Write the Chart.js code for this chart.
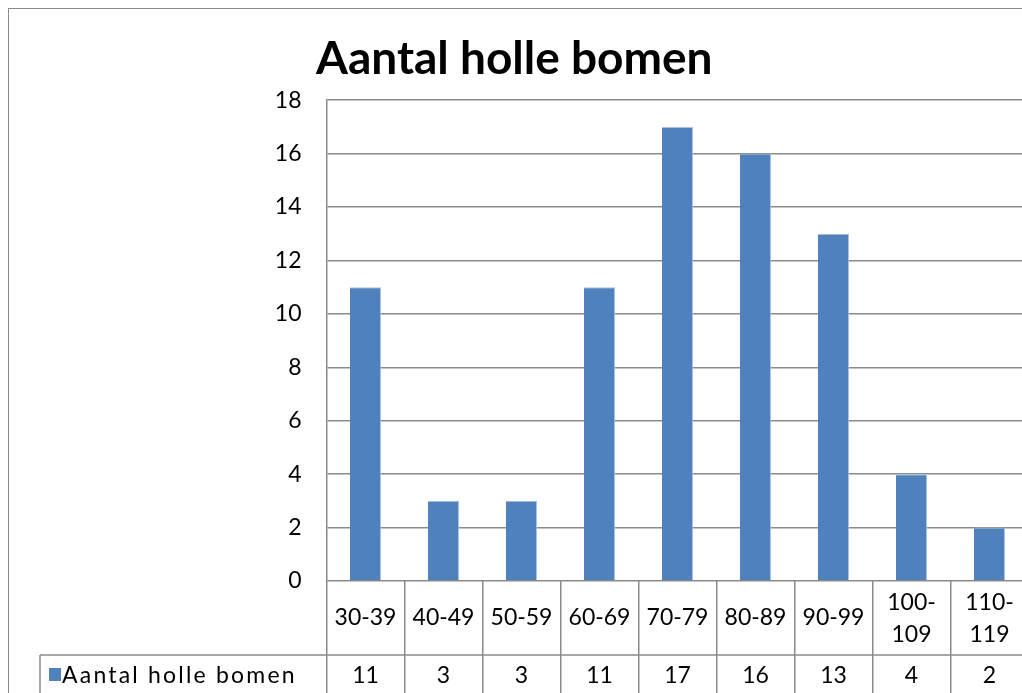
<!DOCTYPE html>
<html>
<head>
<meta charset="utf-8">
<script src="https://cdn.jsdelivr.net/npm/chart.js@4/dist/chart.umd.min.js"></script>
<style>
  html, body { margin: 0; padding: 0; background: #fff; }
  #wrap { position: relative; width: 1022px; height: 693px; overflow: hidden; }
  #frame { position: absolute; left: 8px; top: 8px; width: 1100px; height: 800px; border: 1.5px solid #8a8a8a; }
  #myChart { position: absolute; left: 0; top: 0; }
</style>
</head>
<body>
<div id="wrap">
  <div id="frame"></div>
  <canvas id="myChart" width="1035" height="720"></canvas>
</div>
<script>
// gegevens
const titel = 'Aantal holle bomen';
const klassen = ['30-39', '40-49', '50-59', '60-69', '70-79', '80-89', '90-99', '100-109', '110-119'];
const aantallen = [11, 3, 3, 11, 17, 16, 13, 4, 2];
const yTicks = [0, 2, 4, 6, 8, 10, 12, 14, 16, 18];

const blauw = '#4f81bd';
const lijn = '#8a8a8a';
const font = 'Lato';
const tabelTop = 581;   // onderkant plotgebied
const rijGrens = 655;   // lijn tussen de twee tabelrijen

// datatabel onder de grafiek tekenen
const tabelPlugin = {
  id: 'tabel',
  afterDraw(chart) {
    const ctx = chart.ctx;
    const xs = chart.scales.x;
    const bottom = chart.height;
    ctx.save();
    ctx.strokeStyle = lijn;
    ctx.lineWidth = 1.5;
    ctx.beginPath();
    ctx.moveTo(40, rijGrens);
    ctx.lineTo(chart.width, rijGrens);
    ctx.moveTo(40, rijGrens);
    ctx.lineTo(40, bottom);
    ctx.stroke();

    ctx.fillStyle = '#000';
    ctx.font = '23px ' + font;
    ctx.textAlign = 'center';
    ctx.textBaseline = 'middle';
    const breedte = xs.width / klassen.length;
    for (let i = 0; i < klassen.length; i++) {
      const x = xs.getPixelForValue(i);
      let regels = [klassen[i]];
      if (ctx.measureText(klassen[i]).width > breedte - 10) {
        const p = klassen[i].indexOf('-') + 1;
        regels = [klassen[i].slice(0, p), klassen[i].slice(p)];
      }
      if (regels.length == 1) {
        ctx.fillText(regels[0], x, 618);
      } else {
        ctx.fillText(regels[0], x, 603);
        ctx.fillText(regels[1], x, 635);
      }
      ctx.fillText(String(aantallen[i]), x, 676);
    }

    // legenda in de tabel
    ctx.fillStyle = blauw;
    ctx.fillRect(49, 668, 12, 13);
    ctx.fillStyle = '#000';
    ctx.textAlign = 'left';
    ctx.letterSpacing = '2.2px';
    ctx.fillText(titel, 62, 676);
    ctx.restore();
  }
};

const ctx = document.getElementById('myChart').getContext('2d');
const chart = new Chart(ctx, {
  type: 'bar',
  data: {
    labels: klassen,
    datasets: [{
      label: titel,
      data: aantallen,
      backgroundColor: blauw,
      borderColor: '#a9c1de',
      borderWidth: { top: 1, right: 1, left: 0, bottom: 0 },
      borderSkipped: false,
      categoryPercentage: 1.0,
      barPercentage: 0.4
    }]
  },
  options: {
    responsive: false,
    animation: false,
    layout: { padding: { left: 0, right: 6.5, top: 0, bottom: 0 } },
    plugins: {
      legend: { display: false },
      tooltip: { enabled: false },
      title: {
        display: true,
        text: titel,
        color: '#000',
        font: { family: font, size: 46, weight: 'bold', lineHeight: 1.2 },
        padding: { top: 32, bottom: 13 }
      }
    },
    scales: {
      x: {
        offset: true,
        ticks: { display: false },
        grid: {
          offset: true,
          drawOnChartArea: false,
          drawTicks: true,
          tickLength: 720 - tabelTop,
          color: lijn,
          lineWidth: 1.5
        },
        border: { display: false },
        afterFit(scale) { scale.height = 720 - tabelTop; }
      },
      y: {
        min: 0,
        max: 18,
        afterBuildTicks(scale) { scale.ticks = yTicks.map(v => ({ value: v })); },
        ticks: {
          color: '#000',
          padding: 25,
          font: { family: font, size: 23 }
        },
        grid: { color: lijn, lineWidth: 1.5, drawTicks: false },
        border: { display: true, color: lijn, width: 1.5 },
        afterFit(scale) { scale.width = 326.5; }
      }
    }
  },
  plugins: [tabelPlugin]
});
</script>
</body>
</html>
